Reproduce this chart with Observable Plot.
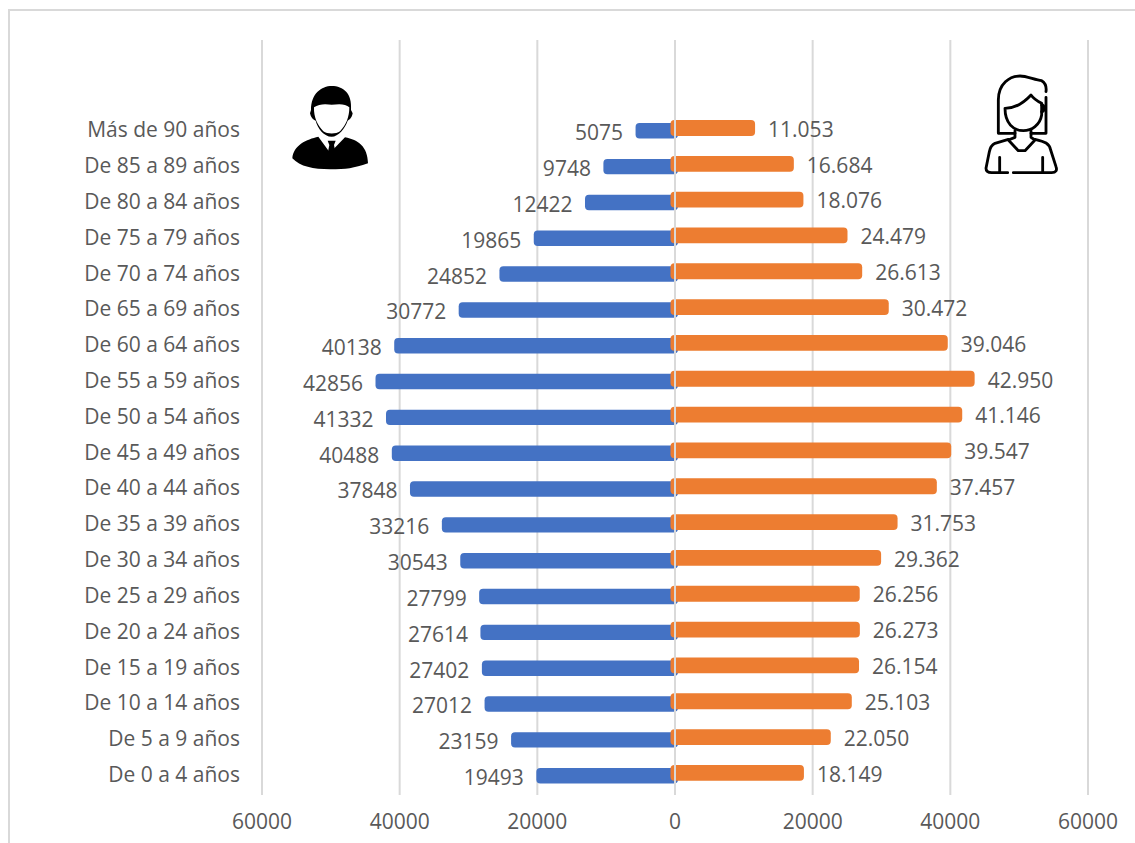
<!DOCTYPE html>
<html lang="es">
<head>
<meta charset="utf-8">
<script src="https://cdn.jsdelivr.net/npm/d3@7"></script>
<script src="https://cdn.jsdelivr.net/npm/@observablehq/plot@0.6"></script>
<style>
  html, body { margin: 0; padding: 0; background: #fff; overflow: hidden; }
  #page { position: relative; width: 1135px; height: 843px; overflow: hidden; }
  #edge { position: absolute; left: 8px; top: 9px; right: 0; bottom: 0; border-top: 2px solid #d9d9d9; border-left: 2px solid #d9d9d9; }
  #chart { position: absolute; left: 0; top: 0; }
  .icon { position: absolute; }
</style>
</head>
<body>
<div id="page">
  <div id="edge"></div>
  <div id="chart"></div>
  <svg class="icon" style="left:250px;top:30px" width="150" height="180" viewBox="0 0 450 540" role="img" aria-label="Hombre">
    <path fill="#000" d="M127 385C130 345 170 328 205 320L240 368L285 322C325 330 353 350 354 400C310 415 290 418 240 418C190 418 150 410 127 385Z"/>
    <path fill="#000" d="M233 332L257 332L252 345L256 365L245 378L234 365L238 345Z"/>
    <path fill="#000" d="M183 240C183 190 215 168 245 168C280 168 307 190 303 240L308 250C305 265 298 270 293 272C285 295 265 320 245 320C222 320 203 295 197 272C190 270 182 262 180 250Z"/>
    <path fill="#fff" d="M192 232C207 220 230 222 245 224C265 222 287 220 298 232C298 262 288 285 270 304C258 313 232 313 220 304C202 285 191 262 192 232Z"/>
  </svg>
  <svg class="icon" style="left:960px;top:60px" width="120" height="130" viewBox="0 0 360 390" role="img" aria-label="Mujer">
    <g fill="none" stroke="#000" stroke-width="8.5" stroke-linecap="round" stroke-linejoin="round">
      <path d="M165 220L115 220L115 120C115 70 150 48 180 48C200 48 225 60 245 62C255 68 260 80 258 95"/>
      <path d="M258 112L258 220L213 220"/>
      <path d="M135 145C160 145 190 130 213 105C220 115 235 125 245 130L245 165C240 195 215 212 190 212C160 212 135 190 135 145Z"/>
      <path d="M165 212L165 232L145 240L175 272L195 272L225 240L213 232L213 212"/>
      <path d="M145 238L105 250C95 255 90 265 88 275L78 325C78 335 85 338 95 338L143 338"/>
      <path d="M160 338L275 338C288 338 292 330 288 320L272 270C268 250 255 245 225 238"/>
      <path d="M119 292L119 338M248 292L248 338"/>
      <path d="M245 135C255 135 255 155 245 155"/>
    </g>
  </svg>
</div>
<script>
const categories = ["Más de 90 años","De 85 a 89 años","De 80 a 84 años","De 75 a 79 años","De 70 a 74 años","De 65 a 69 años","De 60 a 64 años","De 55 a 59 años","De 50 a 54 años","De 45 a 49 años","De 40 a 44 años","De 35 a 39 años","De 30 a 34 años","De 25 a 29 años","De 20 a 24 años","De 15 a 19 años","De 10 a 14 años","De 5 a 9 años","De 0 a 4 años"];
const hombres = [5075,9748,12422,19865,24852,30772,40138,42856,41332,40488,37848,33216,30543,27799,27614,27402,27012,23159,19493];
const mujeres = [11053,16684,18076,24479,26613,30472,39046,42950,41146,39547,37457,31753,29362,26256,26273,26154,25103,22050,18149];
const blankRows = [" ", "  "];
const xTicks = [-60000,-40000,-20000,0,20000,40000,60000];

const font = "'Open Sans', sans-serif";
const textColor = "#595959";
const dotted = d3.formatLocale({decimal: ",", thousands: ".", grouping: [3], currency: ["", ""]}).format(",d");
const rows = categories.map((c, i) => ({c, h: hombres[i], m: mujeres[i]}));

const chart = Plot.plot({
  width: 1135,
  height: 843,
  marginLeft: 261.5,
  marginRight: 47.5,
  marginTop: 40,
  marginBottom: 48,
  style: {background: "transparent", fontFamily: font, fontSize: "21px", color: textColor},
  x: {domain: [-60000, 60000], label: null},
  y: {type: "band", domain: [...blankRows, ...categories], range: [38.4, 790.8], padding: 0, round: false, label: null},
  marks: [
    Plot.ruleX(xTicks, {stroke: "#d9d9d9", strokeWidth: 2}),
    Plot.barX(rows, {x1: d => -d.h, x2: 0, y: "c", fill: "#4472c4", rx: 4, dy: 2.8, insetTop: 10.2, insetBottom: 10.2, insetLeft: -4, insetRight: -3.5}),
    Plot.barX(rows, {x1: 0, x2: "m", y: "c", fill: "#ed7d31", rx: 4, insetTop: 10, insetBottom: 10, insetLeft: -4, insetRight: -4.5}),
    Plot.ruleX([0], {stroke: "#d9d9d9", strokeWidth: 2}),
    Plot.text(rows, {x: d => -d.h, y: "c", text: d => String(d.h), textAnchor: "end", dx: -17, dy: 5, fill: textColor, fontSize: 21}),
    Plot.text(rows, {x: "m", y: "c", text: d => dotted(d.m), textAnchor: "start", dx: 17, dy: 1.5, fill: textColor, fontSize: 21}),
    Plot.axisY({anchor: "left", tickSize: 0, tickPadding: 22, dy: 2, label: null, fill: textColor, fontSize: 21}),
    Plot.axisX(xTicks, {anchor: "bottom", tickSize: 0, tickPadding: 18.5, label: null, tickFormat: d => String(Math.abs(d)), fill: textColor, fontSize: 21})
  ]
});
document.getElementById("chart").appendChild(chart);
</script>
</body>
</html>
